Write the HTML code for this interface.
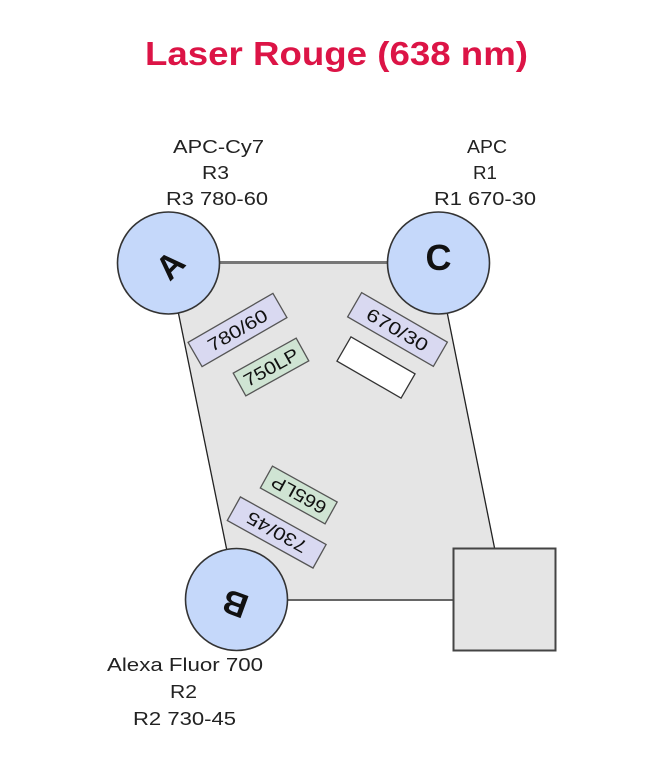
<!DOCTYPE html>
<html>
<head>
<meta charset="utf-8">
<style>
  html, body { margin: 0; padding: 0; background: #ffffff; }
  svg { display: block; }
  text { font-family: "Liberation Sans", "DejaVu Sans", sans-serif; }
</style>
</head>
<body>
<svg width="672" height="768" viewBox="0 0 672 768" xmlns="http://www.w3.org/2000/svg">
  <rect x="0" y="0" width="672" height="768" fill="#ffffff"/>

  <!-- Title -->
  <text x="145" y="65" font-size="33" font-weight="bold" fill="#dc1446" textLength="383" lengthAdjust="spacingAndGlyphs">Laser Rouge (638 nm)</text>

  <!-- Top labels -->
  <g font-size="18" fill="#222">
    <text x="173" y="153" textLength="91" lengthAdjust="spacingAndGlyphs">APC-Cy7</text>
    <text x="202" y="179" textLength="27" lengthAdjust="spacingAndGlyphs">R3</text>
    <text x="166" y="205" textLength="102" lengthAdjust="spacingAndGlyphs">R3 780-60</text>

    <text x="467" y="153" textLength="40" lengthAdjust="spacingAndGlyphs">APC</text>
    <text x="473" y="179" textLength="24" lengthAdjust="spacingAndGlyphs">R1</text>
    <text x="434" y="205" textLength="102" lengthAdjust="spacingAndGlyphs">R1 670-30</text>

    <text x="107" y="671" textLength="156" lengthAdjust="spacingAndGlyphs">Alexa Fluor 700</text>
    <text x="170" y="698" textLength="27" lengthAdjust="spacingAndGlyphs">R2</text>
    <text x="133" y="725" textLength="103" lengthAdjust="spacingAndGlyphs">R2 730-45</text>
  </g>

  <!-- Parallelogram body -->
  <polygon points="168,262 437,262 505,600 237,600" fill="#e5e5e5"/>
  <line x1="168" y1="262.5" x2="437" y2="262.5" stroke="#777" stroke-width="3"/>
  <line x1="237" y1="600" x2="505" y2="600" stroke="#666" stroke-width="2"/>
  <line x1="168" y1="262" x2="237" y2="600" stroke="#222" stroke-width="1.3"/>
  <line x1="437" y1="262" x2="505" y2="600" stroke="#222" stroke-width="1.3"/>

  <!-- Square -->
  <rect x="453.5" y="548.5" width="102" height="102" fill="#e5e5e5" stroke="#444" stroke-width="2"/>

  <!-- Filters -->
  <g transform="translate(237.5,330) rotate(-30)">
    <rect x="-49" y="-14" width="98" height="28" fill="#d9d9f1" stroke="#555" stroke-width="1.3"/>
    <text x="0" y="6.5" font-size="18" fill="#111" text-anchor="middle" textLength="66" lengthAdjust="spacingAndGlyphs">780/60</text>
  </g>
  <g transform="translate(271,367) rotate(-29)">
    <rect x="-36" y="-13" width="72" height="26" fill="#cfe4d3" stroke="#555" stroke-width="1.3"/>
    <text x="0" y="6.5" font-size="18" fill="#111" text-anchor="middle" textLength="60" lengthAdjust="spacingAndGlyphs">750LP</text>
  </g>
  <g transform="translate(397.5,329.5) rotate(30)">
    <rect x="-49.5" y="-14" width="99" height="28" fill="#d9d9f1" stroke="#555" stroke-width="1.3"/>
    <text x="0" y="6.5" font-size="18" fill="#111" text-anchor="middle" textLength="68" lengthAdjust="spacingAndGlyphs">670/30</text>
  </g>
  <g transform="translate(376,367.5) rotate(30)">
    <rect x="-37" y="-14" width="74" height="28" fill="#ffffff" stroke="#333" stroke-width="1.3"/>
  </g>
  <g transform="translate(276.7,532.5) rotate(29)">
    <rect x="-49" y="-13.5" width="98" height="27" fill="#d9d9f1" stroke="#555" stroke-width="1.3"/>
    <text x="0" y="6.5" font-size="18" fill="#111" text-anchor="middle" textLength="66" lengthAdjust="spacingAndGlyphs" transform="rotate(180)">730/45</text>
  </g>
  <g transform="translate(298.75,495) rotate(29)">
    <rect x="-37" y="-12.5" width="74" height="25" fill="#cfe4d3" stroke="#555" stroke-width="1.3"/>
    <text x="0" y="6.5" font-size="18" fill="#111" text-anchor="middle" textLength="60" lengthAdjust="spacingAndGlyphs" transform="rotate(180)">665LP</text>
  </g>

  <!-- Circles -->
  <circle cx="168.5" cy="263" r="51" fill="#c5d8fa" stroke="#333" stroke-width="1.6"/>
  <circle cx="438.5" cy="263" r="51" fill="#c5d8fa" stroke="#333" stroke-width="1.6"/>
  <circle cx="236.5" cy="599.5" r="51" fill="#c5d8fa" stroke="#333" stroke-width="1.6"/>

  <g transform="translate(170,265) rotate(-45)">
    <text x="0" y="12" font-size="34" font-weight="bold" fill="#111" text-anchor="middle">A</text>
  </g>
  <g transform="translate(438.5,258)">
    <text x="0" y="12" font-size="36" font-weight="bold" fill="#111" text-anchor="middle">C</text>
  </g>
  <g transform="translate(235,604) rotate(200)">
    <text x="0" y="12" font-size="34" font-weight="bold" fill="#111" text-anchor="middle">B</text>
  </g>
</svg>
</body>
</html>
